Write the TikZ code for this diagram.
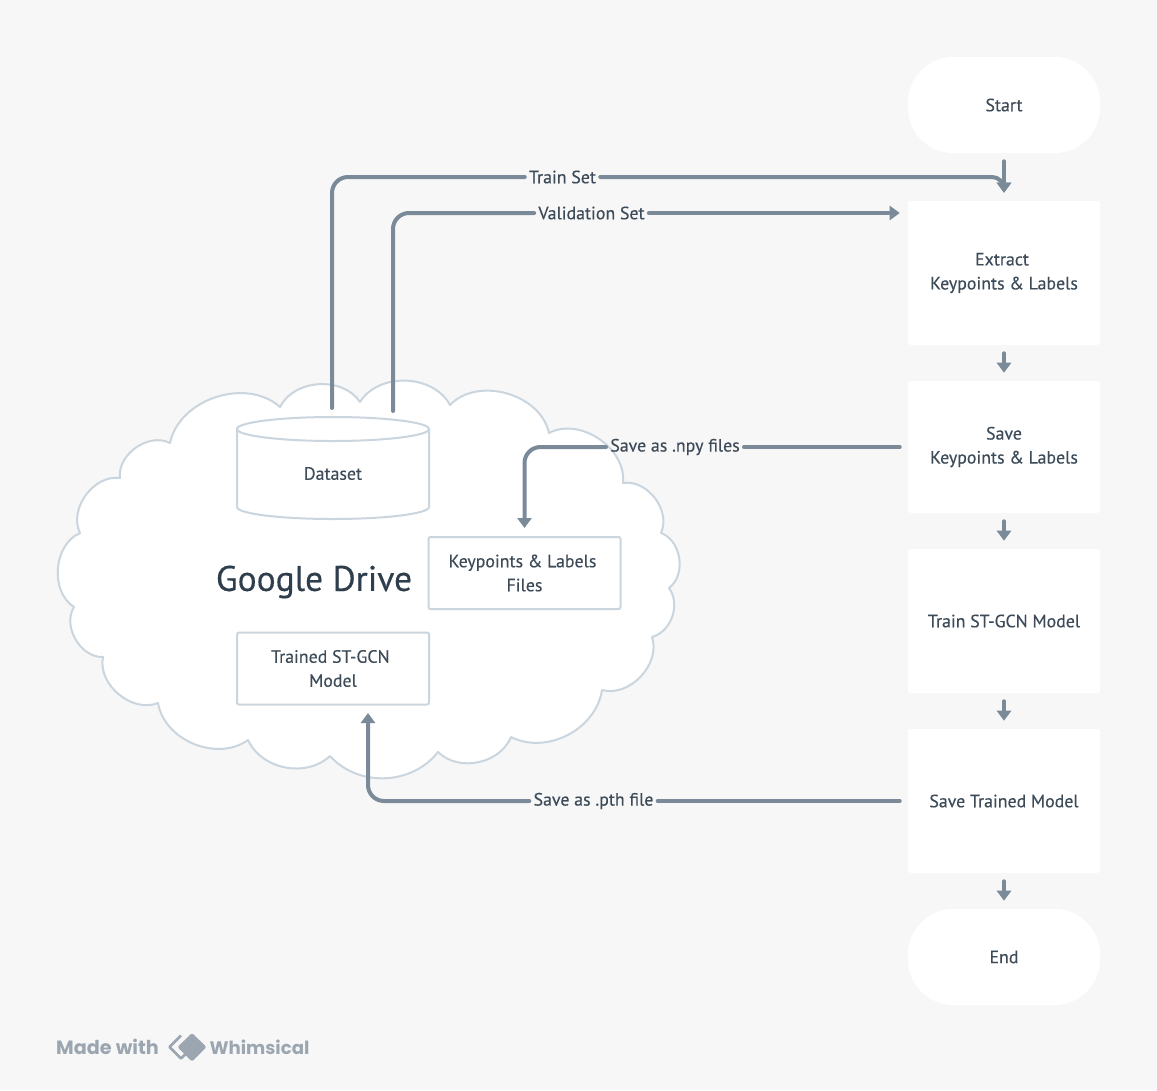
\documentclass[tikz,border=0pt]{standalone}
\usepackage{fontspec}
\setmainfont{PT Sans}[RawFeature={embolden=0.3}]
\newfontfamily\madefont{Poppins}
\usetikzlibrary{arrows.meta}
\definecolor{bgc}{HTML}{F7F7F7}
\definecolor{edgec}{HTML}{CBD5DE}
\definecolor{linec}{HTML}{7A8A99}
\definecolor{textc}{HTML}{3D4B59}
\definecolor{titlec}{HTML}{2F3E4C}
\definecolor{brandc}{HTML}{9BA6B1}
\tikzset{
  x=0.75pt,y=-0.75pt,
  txt/.style={text=textc,font=\fontsize{13.4}{18}\selectfont,align=center,inner sep=0pt},
  flow/.style={txt,fill=white,minimum width=144pt,rounded corners=2pt},
  pill/.style={flow,minimum height=72pt,rounded corners=34pt},
  drivebox/.style={txt,fill=white,draw=edgec,line width=1.5pt,minimum width=144pt,minimum height=54pt,rounded corners=1.5pt},
  lbl/.style={txt,inner xsep=3pt,inner ysep=2pt},
  conn/.style={draw=linec,line width=3pt,line cap=round,rounded corners=12pt},
  tip/.style={-{Triangle[length=7.5pt,width=10.5pt]}},
  gapin/.style={shorten >=6pt},
  gapout/.style={shorten <=6pt},
}
\begin{document}
\begin{tikzpicture}
\useasboundingbox (0,0) rectangle (1157,1090);
\fill[bgc] (0,0) rectangle (1157,1090);
% cloud
\draw[fill=white,draw=edgec,line width=1.5pt,line join=round]
 (360,402) to[bend left=60] (450,405) to[bend left=62] (549,433) to[bend left=62] (623,483)
 to[bend left=62] (661,533) to[bend left=62] (669,588) to[bend left=55] (652,637)
 to[bend left=62] (602,690) to[bend left=54] (511,737) to[bend left=56] (438,752)
 to[bend left=50] (330,756) to[bend left=54] (248,740) to[bend left=58] (158,703)
 to[bend left=62] (103,657) to[bend left=62] (74,607) to[bend left=62] (80,533)
 to[bend left=62] (120,478) to[bend left=62] (170,443) to[bend left=60] (280,407)
 to[bend left=60] cycle;
% dataset cylinder
\draw[fill=white,draw=edgec,line width=1.5pt]
 (237,429) -- (237,507) arc[start angle=180,end angle=360,x radius=96,y radius=-12]
 -- (429,429) arc[start angle=0,end angle=180,x radius=96,y radius=-12] -- cycle;
\draw[draw=edgec,line width=1.5pt]
 (237,429) arc[start angle=180,end angle=360,x radius=96,y radius=-12];
\node[txt,minimum width=144pt,minimum height=76.5pt] (dataset) at (333,468) {};
\node[txt] (datasettext) at (333,473.5) {Dataset};
\node[txt,font=\fontsize{26.6}{30}\selectfont,text=titlec] (drive) at (314,582) {Google Drive};
\node[drivebox] (files) at (524.5,573) {Keypoints \& Labels\hspace*{3pt}\\Files};
\node[drivebox] (trained) at (333,668.5) {Trained ST-GCN\hspace*{4pt}\\Model};
% flow
\node[pill] (start) at (1004,105) {Start};
\node[flow,minimum height=108pt] (extract) at (1004,273) {Extract\hspace*{3pt}\\Keypoints \& Labels};
\node[flow,minimum height=99pt] (savek) at (1004,447) {Save\\Keypoints \& Labels};
\node[flow,minimum height=108pt] (train) at (1004,621) {Train ST-GCN Model};
\node[flow,minimum height=108pt] (savet) at (1004,801) {Save Trained Model};
\node[pill] (end) at (1004,957) {End};
% labels
\node[lbl] (ltrain) at (562.5,177) {Train Set};
\node[lbl] (lval) at (591.5,213) {Validation Set};
\node[lbl] (lnpy) at (675,447) {Save as .npy files};
\node[lbl] (lpth) at (593.5,801) {Save as .pth file};
% free ends
\coordinate (trainout) at (332,408);
\coordinate (valout) at (393,411);
\coordinate (trainedin) at (368,705);
% connectors
\draw[conn,tip,gapin,gapout] (start) -- (extract);
\draw[conn,tip,gapin,gapout] (extract) -- (savek);
\draw[conn,tip,gapin,gapout] (savek) -- (train);
\draw[conn,tip,gapin,gapout] (train) -- (savet);
\draw[conn,tip,gapin,gapout] (savet) -- (end);
\draw[conn] (trainout) |- (ltrain.west);
\draw[conn,tip,gapin,rounded corners=9pt] (ltrain.east) -| (extract.north);
\draw[conn] (valout) |- (lval.west);
\draw[conn,tip,gapin] (lval.east) -- (extract.west |- lval.east);
\draw[conn,gapout] (savek.west) -- (lnpy.east);
\draw[conn,tip,gapin] (lnpy.west) -| (files.north);
\draw[conn,gapout] (savet.west) -- (lpth.east);
\draw[conn,tip,gapin] (lpth.west) -| (trainedin);
% brand
\node[inner sep=0pt,text=brandc,font=\madefont\bfseries\fontsize{14.4}{18}\selectfont] (made) at (107.5,1047) {Made with};
\node[inner sep=0pt,text=brandc,font=\madefont\bfseries\fontsize{13.6}{18}\selectfont] (whim) at (259.5,1047) {Whimsical};
\draw[draw=brandc,line width=2pt,line join=round] (181,1035.5) -- (169.5,1047) -- (181,1058.5) -- (187,1052.5);
\fill[brandc,rounded corners=1.5pt] (192,1033) -- (206.5,1047) -- (192,1061.5) -- (177.5,1047) -- cycle;
\end{tikzpicture}
\end{document}
